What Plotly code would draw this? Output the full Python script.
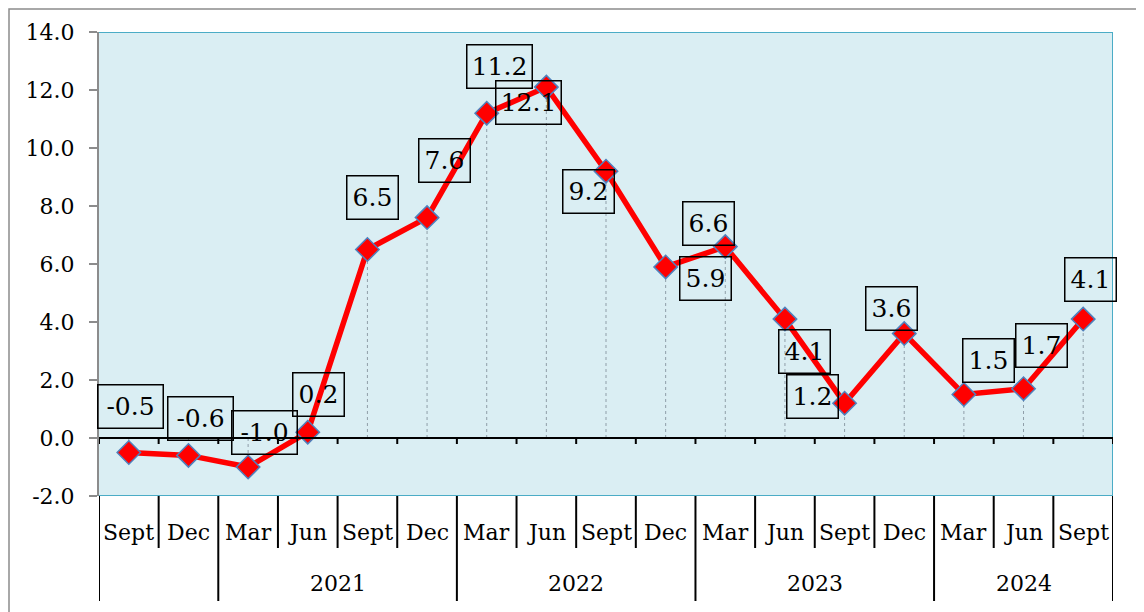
import plotly.graph_objects as go

# ---- data ----
periods = ["Sept", "Dec", "Mar", "Jun", "Sept", "Dec", "Mar", "Jun", "Sept",
           "Dec", "Mar", "Jun", "Sept", "Dec", "Mar", "Jun", "Sept"]
years = ["", "", "2021", "2021", "2021", "2021", "2022", "2022", "2022",
         "2022", "2023", "2023", "2023", "2023", "2024", "2024", "2024"]
values = [-0.5, -0.6, -1.0, 0.2, 6.5, 7.6, 11.2, 12.1, 9.2,
          5.9, 6.6, 4.1, 1.2, 3.6, 1.5, 1.7, 4.1]
y_tick_values = [-2, 0, 2, 4, 6, 8, 10, 12, 14]

# label placement (pixel offsets from each point, screen coords)
label_dx = [2, 12, 16, 11, 5, 17, 13, -18, -18, 40, -17, 20, -32, -13, 25, 18, 7]
label_dy = [-46, -37, -35, -38, -52, -57, -47, 15, 20, 12, -23, 32, -7, -25, -34, -43, -40]

FONT = "DejaVu Serif"
OFF = 8  # default page body margin
W, H = 1144, 604
ML, MR, MT, MB = 91, 39, 24, 116
PH = H - MT - MB
PW = W - ML - MR


def py_to_paper(py):  # py in page pixels
    return (H - MB - (py - OFF)) / PH


def px_to_paper(px):  # px in page pixels
    return ((px - OFF) - ML) / PW


n = len(values)
xs = list(range(n))

fig = go.Figure()

# drop lines
dx, dy = [], []
for i, v in zip(xs, values):
    dx += [i, i, None]
    dy += [0, v, None]
fig.add_trace(go.Scatter(x=dx, y=dy, mode="lines",
                         line=dict(color="#8f9ea8", width=1, dash="dot"),
                         hoverinfo="skip", showlegend=False))

# main series
fig.add_trace(go.Scatter(
    x=xs, y=values, mode="lines+markers",
    line=dict(color="#ff0000", width=5.5),
    marker=dict(symbol="diamond", size=18, color="#ff0000",
                line=dict(color="#4f81bd", width=1.5)),
    showlegend=False))

shapes = []
# plot-area border (top, right, bottom)
for (x0, y0, x1, y1) in [(-0.5, 14, n - 0.5, 14), (n - 0.5, -2, n - 0.5, 14), (-0.5, -2, n - 0.5, -2)]:
    shapes.append(dict(type="line", xref="x", yref="y", x0=x0, y0=y0, x1=x1, y1=y1,
                       line=dict(color="#4bacc6", width=2)))
# zero (category) axis line
shapes.append(dict(type="line", xref="x", yref="y", x0=-0.5, x1=n - 0.5, y0=0, y1=0,
                   line=dict(color="black", width=2)))
# tick marks on zero line and separators below
group_bounds = [0]
for k in range(1, n):
    if years[k] != years[k - 1]:
        group_bounds.append(k)
group_bounds.append(n)
for k in range(n + 1):
    xb = k - 0.5
    shapes.append(dict(type="line", xref="x", yref="y", ysizemode="pixel", yanchor=0,
                       x0=xb, x1=xb, y0=0, y1=-6, line=dict(color="black", width=2)))
    bottom = 601 if k in group_bounds else 548
    shapes.append(dict(type="line", xref="x", yref="paper", x0=xb, x1=xb,
                       y0=py_to_paper(496), y1=py_to_paper(bottom),
                       line=dict(color="black", width=2)))
# outer frame
shapes.append(dict(type="rect", xref="paper", yref="paper",
                   x0=px_to_paper(9), x1=px_to_paper(1160),
                   y0=py_to_paper(640), y1=py_to_paper(9),
                   line=dict(color="#8c8c8c", width=1.5), layer="below"))

annotations = []
# data labels
for i, v in enumerate(values):
    txt = f"{v:.1f}"
    annotations.append(dict(
        x=i, y=v, xref="x", yref="y", text=txt, showarrow=False,
        xanchor="center", yanchor="middle",
        xshift=label_dx[i], yshift=-label_dy[i],
        font=dict(family=FONT, size=25, color="black"),
        bordercolor="black", borderwidth=1.5, borderpad=0,
        bgcolor="rgba(0,0,0,0)",
        width=50 if len(txt) == 3 else 64, height=42))
# month labels
for i, p in enumerate(periods):
    annotations.append(dict(x=i, y=py_to_paper(532), xref="x", yref="paper",
                            xanchor="center", yanchor="middle",
                            text=p, showarrow=False,
                            font=dict(family=FONT, size=22, color="black")))
# year labels
for g in range(len(group_bounds) - 1):
    a, b = group_bounds[g], group_bounds[g + 1]
    if years[a]:
        annotations.append(dict(x=(a + b - 1) / 2, y=py_to_paper(583), xref="x", yref="paper",
                                xanchor="center", yanchor="middle",
                                text=years[a], showarrow=False,
                                font=dict(family=FONT, size=22, color="black")))

fig.update_layout(
    width=W, height=H, autosize=False,
    margin=dict(l=ML, r=MR, t=MT, b=MB),
    paper_bgcolor="white", plot_bgcolor="#daeef3",
    font=dict(family=FONT),
    xaxis=dict(range=[-0.5, n - 0.5], showticklabels=False, showgrid=False,
               zeroline=False, showline=False, ticks=""),
    yaxis=dict(range=[-2, 14], tickvals=y_tick_values,
               ticktext=[f"{t:.1f}" for t in y_tick_values],
               showgrid=False, zeroline=False, showline=True,
               linecolor="#8c8c8c", linewidth=2, ticks="outside", ticklen=8,
               tickcolor="#8c8c8c", tickwidth=2, ticklabelstandoff=10,
               tickfont=dict(family=FONT, size=22, color="black")),
    shapes=shapes, annotations=annotations, showlegend=False,
)

fig.write_html("out.html")
